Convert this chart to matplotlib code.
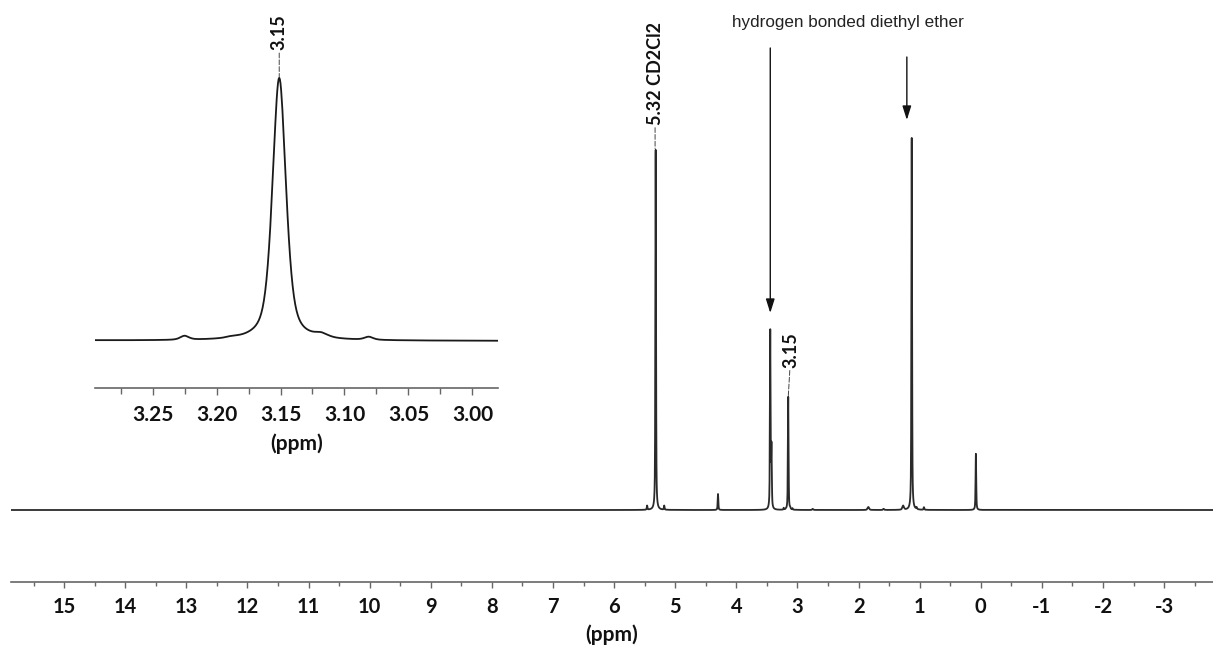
import numpy as np
import matplotlib
matplotlib.use("Agg")
import matplotlib.pyplot as plt
from matplotlib.ticker import MultipleLocator

# ---- data (peak positions ppm, relative heights, line widths ppm) ----
peak_ppm = [5.46, 5.32, 5.18, 4.30, 3.445, 3.425, 3.225, 3.188, 3.151, 3.118, 3.081,
            2.75, 1.84, 1.59, 1.27, 1.13, 1.05, 0.93, 0.08]
peak_height = [0.011, 0.968, 0.011, 0.043, 0.478, 0.16, 0.0046, 0.0012, 0.304, 0.0042, 0.0035,
               0.003, 0.008, 0.003, 0.011, 1.0, 0.005, 0.007, 0.151]
peak_fwhm = [0.0125, 0.0125, 0.0125, 0.0125, 0.0125, 0.0125, 0.008, 0.01, 0.0125, 0.012, 0.008,
             0.02, 0.03, 0.02, 0.03, 0.0125, 0.015, 0.015, 0.0125]
lorentz_fraction = 0.55

main_ticks = list(range(-3, 16))
inset_ticks = [3.25, 3.20, 3.15, 3.10, 3.05, 3.00]

label_cd2cl2 = "5.32 CD2Cl2"
label_315 = "3.15"
label_ether = "hydrogen bonded diethyl ether"
axis_label = "(ppm)"

# ---- spectrum from the read peak parameters ----
ppm = np.arange(-3.8, 15.87, 0.0005)
spec = np.zeros_like(ppm)
for x0, h, w in zip(peak_ppm, peak_height, peak_fwhm):
    u = (ppm - x0) / (w / 2)
    spec += h * (lorentz_fraction / (1 + u ** 2) + (1 - lorentz_fraction) * np.exp(-np.log(2) * u ** 2))

W, H = 1213, 647
fig = plt.figure(figsize=(W / 100, H / 100), dpi=100)
fig.patch.set_facecolor("white")

fam = ["Lato", "DejaVu Sans"]
tick_font = dict(family=fam, weight="bold", size=14.5)
inset_tick_font = dict(family=fam, weight="bold", size=15)
xlabel_font = dict(family=fam, weight="bold", size=15)
lbl_font = dict(family=fam, weight="bold", size=13)
line_col = "#2a2a2a"
spine_col = "#666666"

# ---- main axes ----
ax = fig.add_axes([11 / W, (H - 582) / H, (1213 - 11) / W, 582 / H])
ax.plot(ppm, spec, color=line_col, lw=1.3)
ax.set_xlim(15.87, -3.8)
ax.set_ylim(-72 / 372, 510 / 372)
for s in ["top", "left", "right"]:
    ax.spines[s].set_visible(False)
ax.spines["bottom"].set_color(spine_col)
ax.spines["bottom"].set_linewidth(1.2)
ax.set_yticks([])
ax.set_xticks(main_ticks)
ax.xaxis.set_minor_locator(MultipleLocator(0.5))
ax.set_xticklabels([str(t) for t in main_ticks], color="#111111", **tick_font)
ax.tick_params(axis="x", which="major", length=4, width=1.0, color=spine_col, pad=6.5)
ax.tick_params(axis="x", which="minor", length=3, width=1.0, color=spine_col)
ax.set_xlabel(axis_label, color="#111111", labelpad=5.5, **xlabel_font)

dash = dict(arrowstyle="-", lw=0.7, color="#444444", ls=(0, (5, 2)), shrinkA=0, shrinkB=1)
ax.annotate(label_cd2cl2, xy=(5.33, 0.968), xytext=(0, 18), textcoords="offset points",
            rotation=90, ha="center", va="bottom", color="#111111",
            arrowprops=dash, **lbl_font)
ax.annotate(label_315, xy=(3.151, 0.304), xytext=(2, 21), textcoords="offset points",
            rotation=90, ha="center", va="bottom", color="#111111",
            arrowprops=dash, **lbl_font)

ax.text(2.17, (510 - 23) / 372, label_ether, ha="center", va="center",
        family=["Liberation Sans", "DejaVu Sans"], size=12.3, color="#222222")
arrow = dict(arrowstyle="-|>,head_length=0.7,head_width=0.22", lw=1.0, color="#111111",
             shrinkA=0, shrinkB=0, mutation_scale=12)
ax.annotate("", xy=(3.445, (510 - 313) / 372), xytext=(3.445, (510 - 48) / 372), arrowprops=arrow)
ax.annotate("", xy=(1.21, (510 - 120) / 372), xytext=(1.21, (510 - 57) / 372), arrowprops=arrow)

# ---- inset ----
ins = fig.add_axes([95 / W, (H - 388) / H, (498 - 95) / W, (388 - 70) / H])
ins.plot(ppm, spec, color="#1a1a1a", lw=1.3)
ins.set_xlim(3.295, 2.980)
ins.set_ylim(-47 / 865, 271 / 865)
for s in ["top", "left", "right"]:
    ins.spines[s].set_visible(False)
ins.spines["bottom"].set_color(spine_col)
ins.spines["bottom"].set_linewidth(1.2)
ins.set_yticks([])
ins.patch.set_alpha(0)
ins.set_xticks(inset_ticks)
ins.xaxis.set_minor_locator(MultipleLocator(0.025))
ins.set_xticklabels(["%.2f" % t for t in inset_ticks], color="#111111", **inset_tick_font)
ins.tick_params(axis="x", which="major", length=5, width=1.0, color=spine_col, pad=7)
ins.tick_params(axis="x", which="minor", length=4, width=1.0, color=spine_col)
ins.set_xlabel(axis_label, color="#111111", labelpad=6.5, **xlabel_font)
ins.annotate(label_315, xy=(3.151, 0.304), xytext=(0, 20), textcoords="offset points",
             rotation=90, ha="center", va="bottom", color="#111111",
             arrowprops=dash, annotation_clip=False, **lbl_font)

fig.savefig("out.png", dpi=100, facecolor="white")
